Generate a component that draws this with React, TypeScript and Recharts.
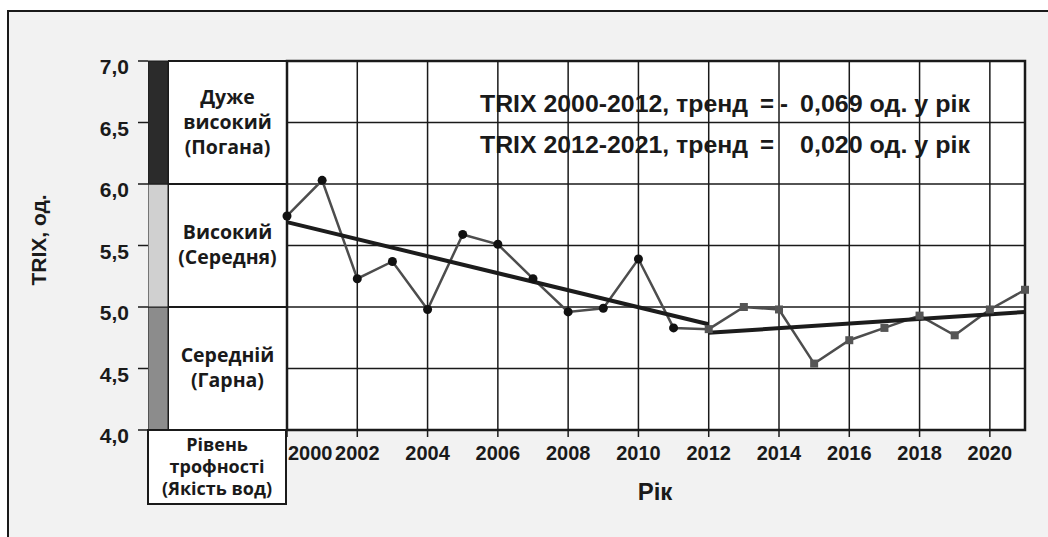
import React from 'react';
import { ComposedChart, Line, XAxis, YAxis, CartesianGrid, ReferenceArea } from 'recharts';

// TRIX index by year
const years = [2000, 2001, 2002, 2003, 2004, 2005, 2006, 2007, 2008, 2009, 2010, 2011, 2012, 2013, 2014, 2015, 2016, 2017, 2018, 2019, 2020, 2021];
const trix = [5.74, 6.03, 5.23, 5.37, 4.98, 5.59, 5.51, 5.23, 4.96, 4.99, 5.39, 4.83, 4.82, 5.0, 4.98, 4.54, 4.73, 4.83, 4.93, 4.77, 4.98, 5.14];

// linear trends (end points)
const trendEarlyYears = [2000, 2012];
const trendEarlyValues = [5.69, 4.86];
const trendLateYears = [2012, 2021];
const trendLateValues = [4.79, 4.96];
const trendTitles = ['TRIX 2000-2012, тренд', 'TRIX 2012-2021, тренд'];
const trendSlopes = [-0.069, 0.02];

const xTicks = [2000, 2002, 2004, 2006, 2008, 2010, 2012, 2014, 2016, 2018, 2020];
const yTicks = [4, 4.5, 5, 5.5, 6, 6.5, 7];

// trophic levels (water quality)
const levelBounds = [4, 5, 6, 7];
const levelNames = [
  ['Середній', '(Гарна)'],
  ['Високий', '(Середня)'],
  ['Дуже', 'високий', '(Погана)'],
];
const levelHeader = ['Рівень', 'трофності', '(Якість вод)'];

const levelColors = ['#8c8c8c', '#d0d0d0', '#2b2b2b'];
const ink = '#1a1a1a';
const arial = "'Liberation Sans', Arial, sans-serif";
const calibri = "'Open Sans', 'Noto Sans', sans-serif";

const data = years.map((year, i) => ({ year, trix: trix[i] }));
const trendEarly = trendEarlyYears.map((year, i) => ({ year, trend: trendEarlyValues[i] }));
const trendLate = trendLateYears.map((year, i) => ({ year, trend: trendLateValues[i] }));
const levels = levelNames.map((names, i) => ({ pos: i / 2, lo: levelBounds[i], hi: levelBounds[i + 1], names }));

const fmt = (v: number, d: number) => v.toFixed(d).replace('.', ',');

const XTick = (props: any) => {
  const { x, y, payload } = props;
  const first = payload.value === xTicks[0];
  return (
    <text x={first ? x + 1 : x} y={y + 21} textAnchor={first ? 'start' : 'middle'}
      fontFamily={arial} fontWeight="bold" fontSize={20} fill={ink}>
      {payload.value}
    </text>
  );
};

const YTick = (props: any) => {
  const { y, payload } = props;
  return (
    <g>
      <line x1={138} x2={148} y1={y} y2={y} stroke={ink} strokeWidth={1.5} />
      <text x={129} y={y + 13} textAnchor="end" fontFamily={arial} fontWeight="bold" fontSize={21} fill={ink}>
        {fmt(payload.value, 1)}
      </text>
    </g>
  );
};

const YTitle = () => (
  <text x={46} y={240} transform="rotate(-90 46 240)" textAnchor="middle"
    fontFamily={arial} fontWeight="bold" fontSize={21} fill={ink}>
    TRIX, од.
  </text>
);

const XTitle = () => (
  <text x={655} y={500} textAnchor="middle" fontFamily={arial} fontWeight="bold" fontSize={24} fill={ink}>
    Рік
  </text>
);

const renderDot = (props: any) => {
  const { cx, cy, payload, index } = props;
  if (payload.year < 2012) {
    return <circle key={`d${index}`} cx={cx} cy={cy} r={4.5} fill="#111" />;
  }
  return <rect key={`d${index}`} x={cx - 4} y={cy - 4} width={8} height={8} fill="#555" />;
};

const LevelLabel = (props: any) => {
  const { viewBox, lines } = props;
  if (!viewBox) return null;
  const cx = viewBox.x + viewBox.width / 2;
  const cy = viewBox.y + viewBox.height / 2;
  const step = 25;
  const start = cy - ((lines.length - 1) * step) / 2 + 6;
  return (
    <text textAnchor="middle" fontFamily={calibri} fontWeight="bold" fontSize={19.5} fill={ink}>
      {lines.map((l: string, i: number) => (
        <tspan key={i} x={cx} y={start + i * step}>{l}</tspan>
      ))}
    </text>
  );
};

// left panel: one column of the trophic scale, drawn on the same 4..7 axis
const LevelColumn = ({ width, colored }: { width: number; colored: boolean }) => (
  <ComposedChart width={width} height={537} data={levels} margin={{ top: 61, right: 0, bottom: 107, left: 0 }}>
    <XAxis hide dataKey="pos" type="number" domain={[0, 1]} />
    <YAxis hide type="number" domain={[4, 7]} />
    <Line dataKey="lo" stroke="none" dot={false} isAnimationActive={false} />
    {levels.map((lv, i) => (
      <ReferenceArea key={i} x1={0} x2={1} y1={lv.lo} y2={lv.hi}
        fill={colored ? levelColors[i] : '#fff'} fillOpacity={1} stroke={ink} strokeWidth={colored ? 1 : 2}
        ifOverflow="visible" label={colored ? undefined : <LevelLabel lines={lv.names} />} />
    ))}
  </ComposedChart>
);

const App = () => {
  return (
    <div style={{ position: 'absolute', left: 0, top: 0, width: 1048, height: 537, overflow: 'hidden', background: '#fff' }}>
      <div style={{ position: 'absolute', left: 7, top: 10, width: 1100, height: 600, borderLeft: `2px solid ${ink}`, borderTop: `2px solid ${ink}`, background: '#f2f2f2' }} />

      <div style={{ position: 'absolute', left: 148, top: 0 }}>
        <LevelColumn width={20} colored />
      </div>

      <div style={{ position: 'absolute', left: 168, top: 0 }}>
        <LevelColumn width={119} colored={false} />
      </div>

      <div style={{ position: 'absolute', left: 0, top: 0 }}>
        <ComposedChart width={1048} height={537} data={data} margin={{ top: 61, right: 23, bottom: 0, left: 0 }}>
          <CartesianGrid stroke={ink} strokeWidth={1.5} fill="#fff" fillOpacity={1} />
          <XAxis dataKey="year" type="number" domain={[2000, 2021]} ticks={xTicks} interval={0} height={107}
            axisLine={false} tickSize={7} tickLine={{ stroke: ink, strokeWidth: 1.5 }} tick={<XTick />} label={<XTitle />} />
          <YAxis type="number" domain={[4, 7]} ticks={yTicks} interval={0} width={287}
            axisLine={false} tickLine={false} tick={<YTick />} label={<YTitle />} />
          <Line dataKey="trix" stroke="#4d4d4d" strokeWidth={2.5} dot={renderDot} isAnimationActive={false} />
          <Line data={trendEarly} dataKey="trend" stroke="#1c1c1c" strokeWidth={4} dot={false} isAnimationActive={false} />
          <Line data={trendLate} dataKey="trend" stroke="#1c1c1c" strokeWidth={4} dot={false} isAnimationActive={false} />
          <ReferenceArea x1={2000} x2={2021} y1={4} y2={7} fill="none" stroke={ink} strokeWidth={2.5} ifOverflow="visible" />
        </ComposedChart>
      </div>

      <div style={{
        position: 'absolute', left: 147, top: 429, width: 140, height: 76, boxSizing: 'border-box',
        border: `2px solid ${ink}`, background: '#fff', textAlign: 'center', paddingTop: 2,
        fontFamily: calibri, fontWeight: 'bold', fontSize: 18, lineHeight: '22px', color: ink,
      }}>
        {levelHeader.map((t, i) => <div key={i}>{t}</div>)}
      </div>

      <svg width={1048} height={537} style={{ position: 'absolute', left: 0, top: 0, pointerEvents: 'none' }}>
        {trendTitles.map((t, i) => {
          const y = 112 + i * 41;
          return (
            <g key={i} fontFamily={arial} fontWeight="bold" fontSize={24} fill={ink}>
              <text x={480} y={y} textLength={268} lengthAdjust="spacingAndGlyphs">{t}</text>
              <text x={767} y={y} textAnchor="middle">=</text>
              {trendSlopes[i] < 0 && <text x={784} y={y} textAnchor="middle">-</text>}
              <text x={800} y={y} textLength={170} lengthAdjust="spacingAndGlyphs">{fmt(Math.abs(trendSlopes[i]), 3)} од. у рік</text>
            </g>
          );
        })}
      </svg>
    </div>
  );
};

export default App;
